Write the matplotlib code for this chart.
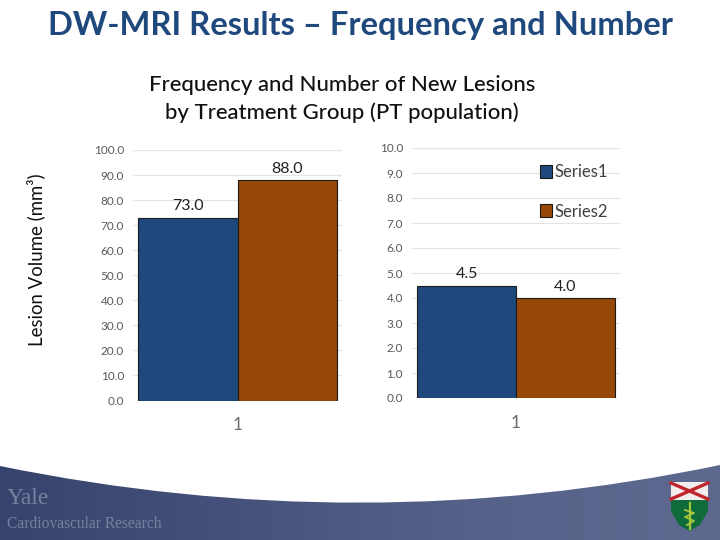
import numpy as np
import matplotlib
matplotlib.use('Agg')
import matplotlib.pyplot as plt
from matplotlib.patches import PathPatch, Polygon, Rectangle
from matplotlib.path import Path
from matplotlib.colors import LinearSegmentedColormap

W, H = 720, 540

# Dados
categorias = ['1']
series_nomes = ['Series1', 'Series2']
volume_s1 = [73.0]
volume_s2 = [88.0]
numero_s1 = [4.5]
numero_s2 = [4.0]
ticks_volume = [0, 10, 20, 30, 40, 50, 60, 70, 80, 90, 100]
ticks_numero = [0, 1, 2, 3, 4, 5, 6, 7, 8, 9, 10]

AZUL = '#1f497d'
MARROM = '#974806'

plt.rcParams['font.family'] = ['Lato', 'DejaVu Sans']


def eixo_px(fig, x0, x1, y_top, y_bot):
    return fig.add_axes([x0 / W, 1 - y_bot / H, (x1 - x0) / W, (y_bot - y_top) / H])


def barras(ax, v1, v2, ticks):
    larg = 0.4737
    b1 = ax.bar(-larg / 2, v1, larg, color=AZUL, edgecolor='#1a1a1a', linewidth=0.8, label=series_nomes[0], zorder=3)
    b2 = ax.bar(larg / 2, v2, larg, color=MARROM, edgecolor='#1a1a1a', linewidth=0.8, label=series_nomes[1], zorder=3)
    ax.bar_label(b1, fmt='%.1f', padding=3, fontsize=11.5, color='#222222')
    ax.bar_label(b2, fmt='%.1f', padding=3, fontsize=11.5, color='#222222')
    ax.set_xlim(-0.5, 0.5)
    ax.set_ylim(ticks[0], ticks[-1])
    ax.set_yticks(ticks)
    ax.set_yticklabels([f'{float(t):.1f}' for t in ticks], fontsize=8.5, color='#595959')
    ax.set_xticks([0])
    ax.set_xticklabels(categorias, fontsize=12.5, color='#6b6b6b')
    ax.tick_params(length=0, axis='y', pad=6.5)
    ax.tick_params(length=0, axis='x', pad=12)
    ax.grid(axis='y', color='#e4e4e4', linewidth=0.9, zorder=0)
    ax.set_axisbelow(True)
    for s in ax.spines.values():
        s.set_visible(False)
    ax.patch.set_alpha(0)


fig = plt.figure(figsize=(W / 100, H / 100), dpi=100, facecolor='white')

# Faixa do rodapé
fundo = fig.add_axes([0, 0, 1, 1], zorder=0)
cmap = LinearSegmentedColormap.from_list('rodape', ['#36436c', '#46527b', '#566289', '#5e6990'])
img = fundo.imshow(np.linspace(0, 1, 256).reshape(1, -1), extent=[0, W, H, 462], cmap=cmap, aspect='auto')
fundo.set_xlim(0, W)
fundo.set_ylim(H, 0)
fundo.axis('off')
curva = Path([(0, 466), (240, 515), (480, 515), (720, 465), (720, 540), (0, 540), (0, 466)],
             [Path.MOVETO, Path.CURVE4, Path.CURVE4, Path.CURVE4, Path.LINETO, Path.LINETO, Path.CLOSEPOLY])
clip = PathPatch(curva, transform=fundo.transData, facecolor='none', edgecolor='none')
fundo.add_patch(clip)
img.set_clip_path(clip)

fundo.text(7, 498, 'Yale', family='Liberation Serif', fontsize=17, color='#76809f', va='center')
fundo.text(7, 524, 'Cardiovascular Research', family='Liberation Serif', fontsize=11.2, color='#76809f', va='center')

# Escudo
fundo.add_patch(Rectangle((671, 482), 37, 18, facecolor='#f2eeee', edgecolor='none'))
fundo.plot([671, 708], [483, 499], color='#c0272d', lw=2.4)
fundo.plot([708, 671], [483, 499], color='#c0272d', lw=2.4)
fundo.add_patch(Polygon([(671, 500), (708, 500), (708, 511), (700, 525), (689.5, 531), (679, 525), (671, 511)],
                        facecolor='#0f6b3a', edgecolor='none'))
fundo.plot([689.5, 689.5], [503, 529], color='#a4c640', lw=1.6)
fundo.plot([685, 694, 685, 694, 687], [510, 513, 517, 521, 525], color='#a4c640', lw=1.3)

# Títulos
fundo.text(360, 25.5, 'DW-MRI Results – Frequency and Number', fontsize=23.6, fontweight='bold',
           color='#1f497d', ha='center', va='center')
fundo.text(342, 85, 'Frequency and Number of New Lesions', fontsize=15.9, fontweight='medium',
           color='#111111', ha='center', va='center')
fundo.text(342, 113, 'by Treatment Group (PT population)', fontsize=15.9, fontweight='medium',
           color='#111111', ha='center', va='center')
fundo.text(36, 260, 'Lesion Volume (mm³)', fontsize=13.4, color='#111111', rotation=90, ha='center', va='center')

# Painéis
ax1 = eixo_px(fig, 133, 342, 150, 400.5)
barras(ax1, volume_s1, volume_s2, ticks_volume)

ax2 = eixo_px(fig, 412, 620, 148, 398)
barras(ax2, numero_s1, numero_s2, ticks_numero)
ax2.legend(loc='upper left', bbox_to_anchor=(0.615, 0.935), frameon=False, fontsize=12, handlelength=0.7,
           handleheight=0.8, handletextpad=0.15, labelspacing=1.4, labelcolor='#404040', borderpad=0, borderaxespad=0)

fig.savefig('out.png', dpi=100)
plt.close()
